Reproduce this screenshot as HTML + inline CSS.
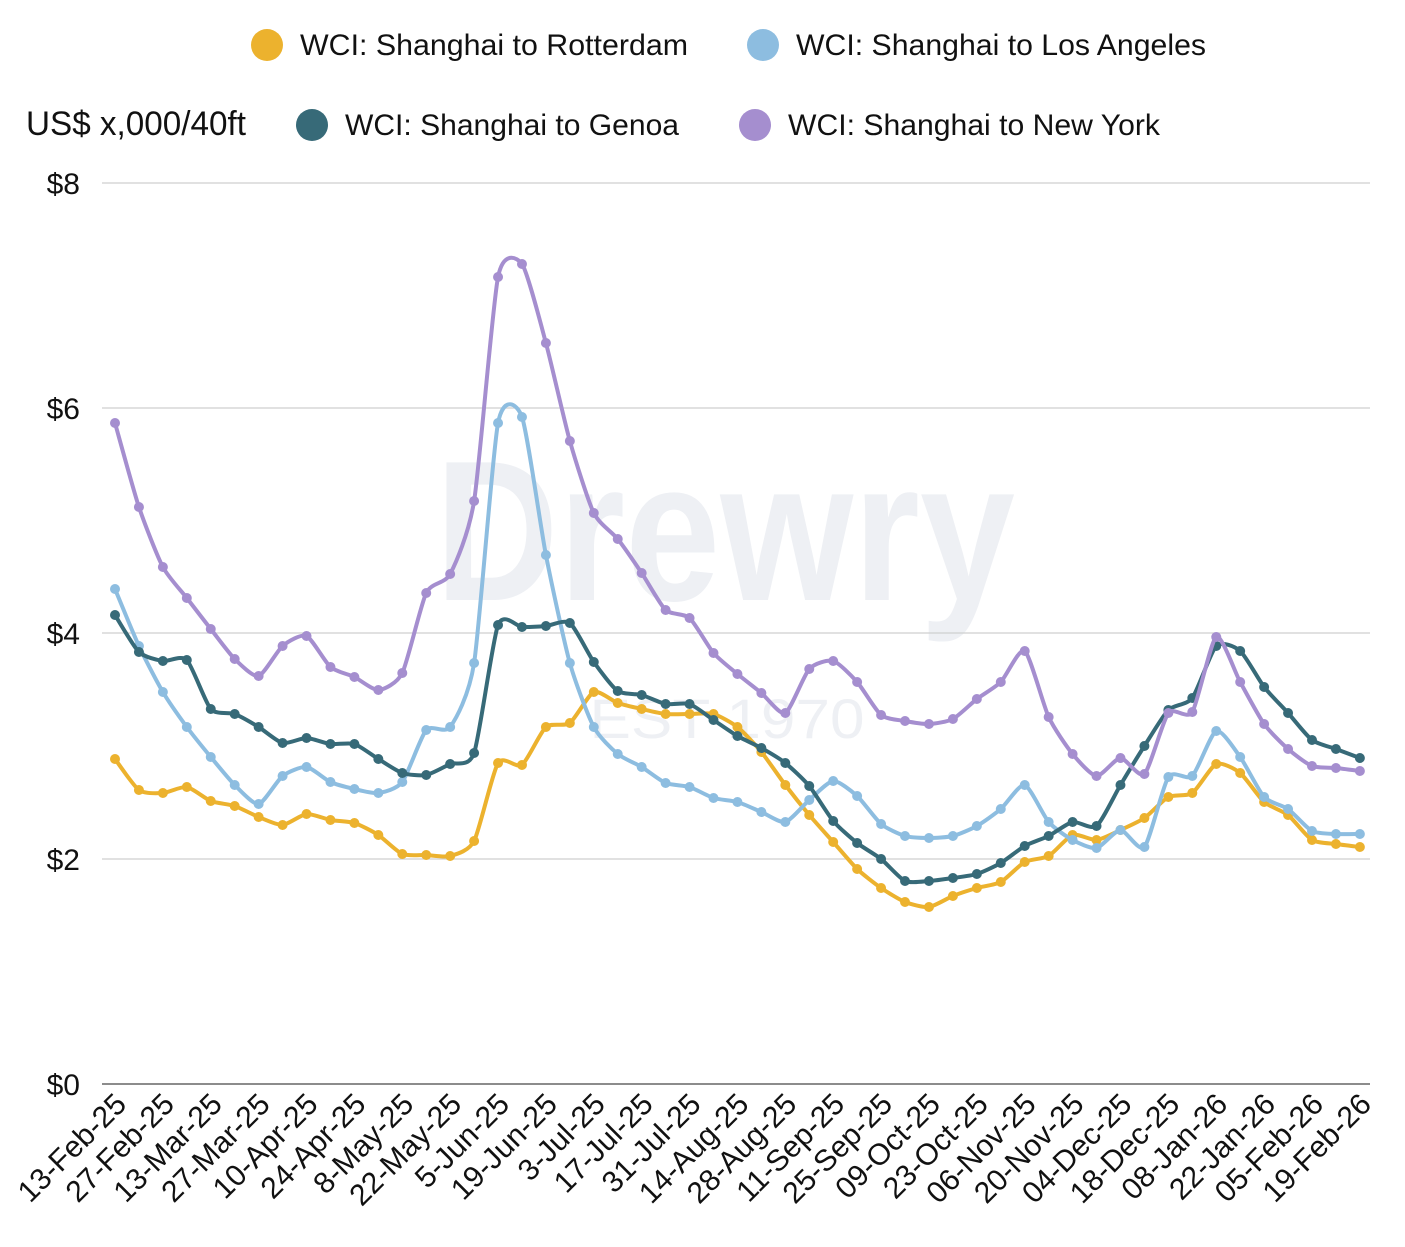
<!DOCTYPE html>
<html><head><meta charset="utf-8"><style>body{margin:0;background:#fff}svg{display:block}text{font-family:"Liberation Sans Narrow","Liberation Sans",sans-serif;fill:#111}</style></head>
<body>
<svg id="s" width="1405" height="1247" viewBox="0 0 1405 1247">
<text x="725" y="600" text-anchor="middle" font-size="200" font-weight="bold" style="fill:#eef0f4;font-family:'Liberation Sans',sans-serif" textLength="580" lengthAdjust="spacingAndGlyphs">Drewry</text>
<text x="727" y="738" text-anchor="middle" font-size="56" style="fill:#eef0f4;font-family:'Liberation Sans',sans-serif" textLength="275" lengthAdjust="spacingAndGlyphs">EST 1970</text>
<g stroke="#cfcfcf" stroke-width="1.2">
<line x1="102" x2="1370" y1="183" y2="183"/><line x1="102" x2="1370" y1="408" y2="408"/><line x1="102" x2="1370" y1="633" y2="633"/><line x1="102" x2="1370" y1="859" y2="859"/></g>
<line x1="102" x2="1370" y1="1084" y2="1084" stroke="#666" stroke-width="1.5"/>
<g font-size="30" text-anchor="end" style="font-family:'Liberation Sans',sans-serif">
<text x="80" y="194">$8</text><text x="80" y="419">$6</text><text x="80" y="644">$4</text><text x="80" y="870">$2</text><text x="80" y="1095">$0</text></g>
<text x="26" y="135" font-size="34" textLength="220" lengthAdjust="spacingAndGlyphs">US$ x,000/40ft</text>
<circle cx="267" cy="45" r="16" fill="#ecb22e"/><text x="300" y="55" font-size="30" textLength="388" lengthAdjust="spacingAndGlyphs">WCI: Shanghai to Rotterdam</text>
<circle cx="763" cy="45" r="16" fill="#8dbde0"/><text x="796" y="55" font-size="30" textLength="410" lengthAdjust="spacingAndGlyphs">WCI: Shanghai to Los Angeles</text>
<circle cx="312" cy="125" r="16" fill="#376a78"/><text x="345" y="135" font-size="30" textLength="334" lengthAdjust="spacingAndGlyphs">WCI: Shanghai to Genoa</text>
<circle cx="755" cy="125" r="16" fill="#a58ecf"/><text x="788" y="135" font-size="30" textLength="372" lengthAdjust="spacingAndGlyphs">WCI: Shanghai to New York</text>
<g id="series"></g><g id="xl" font-size="30" text-anchor="end" style="font-family:'Liberation Sans',sans-serif"></g>
</svg>
<script>
var R=[759,790,793,787,801,806,817,825,814,820,823,835,854,855,856,841,763,765,727,723,692,703,709,714,714,714,727,752,785,815,842,869,888,902,907,896,888,882,862,856,835,840,830,818,797,793,764,773,802,815,840,844,847];
var L=[589,646,692,727,757,785,804,776,767,782,789,793,782,730,727,663,423,417,555,663,727,754,767,783,787,798,802,812,822,800,781,796,824,836,838,836,826,809,785,822,840,848,830,847,777,776,731,757,797,809,831,834,834];
var G=[615,652,661,660,709,714,727,743,738,744,744,759,773,775,764,753,625,627,626,623,662,691,695,704,704,720,736,748,763,786,821,843,859,881,881,878,874,863,846,836,822,826,785,746,710,698,646,651,687,713,740,749,758];
var N=[423,507,567,598,629,659,676,646,636,667,677,690,673,593,574,501,277,264,343,441,513,539,573,610,618,653,674,693,713,669,661,682,715,721,724,719,699,682,651,717,754,776,758,774,713,712,637,682,724,749,766,768,771];
function X(i){return 115+i*23.94}
function path(a){var p=a.map(function(y,i){return[X(i),y]});var d='M'+p[0];var k=9;for(var i=0;i<p.length-1;i++){var p0=p[i-1]||p[i],p1=p[i],p2=p[i+1],p3=p[i+2]||p2;d+='C'+(p1[0]+(p2[0]-p0[0])/k)+','+(p1[1]+(p2[1]-p0[1])/k)+' '+(p2[0]-(p3[0]-p1[0])/k)+','+(p2[1]-(p3[1]-p1[1])/k)+' '+p2;}return d;}
var h='';[[R,'#ecb22e'],[L,'#8dbde0'],[G,'#376a78'],[N,'#a58ecf']].forEach(function(s){h+='<path d="'+path(s[0])+'" fill="none" stroke="'+s[1]+'" stroke-width="4"/>';s[0].forEach(function(y,i){h+='<circle cx="'+X(i)+'" cy="'+y+'" r="5" fill="'+s[1]+'"/>'})});
document.getElementById('series').innerHTML=h;
var labs=['13-Feb-25','27-Feb-25','13-Mar-25','27-Mar-25','10-Apr-25','24-Apr-25','8-May-25','22-May-25','5-Jun-25','19-Jun-25','3-Jul-25','17-Jul-25','31-Jul-25','14-Aug-25','28-Aug-25','11-Sep-25','25-Sep-25','09-Oct-25','23-Oct-25','06-Nov-25','20-Nov-25','04-Dec-25','18-Dec-25','08-Jan-26','22-Jan-26','05-Feb-26','19-Feb-26'];
var t='';labs.forEach(function(l,k){var x=X(2*k)+13,y=1106;t+='<text x="'+x+'" y="'+y+'" transform="rotate(-45 '+x+' '+y+')">'+l+'</text>'});
document.getElementById('xl').innerHTML=t;
</script>
</body></html>
